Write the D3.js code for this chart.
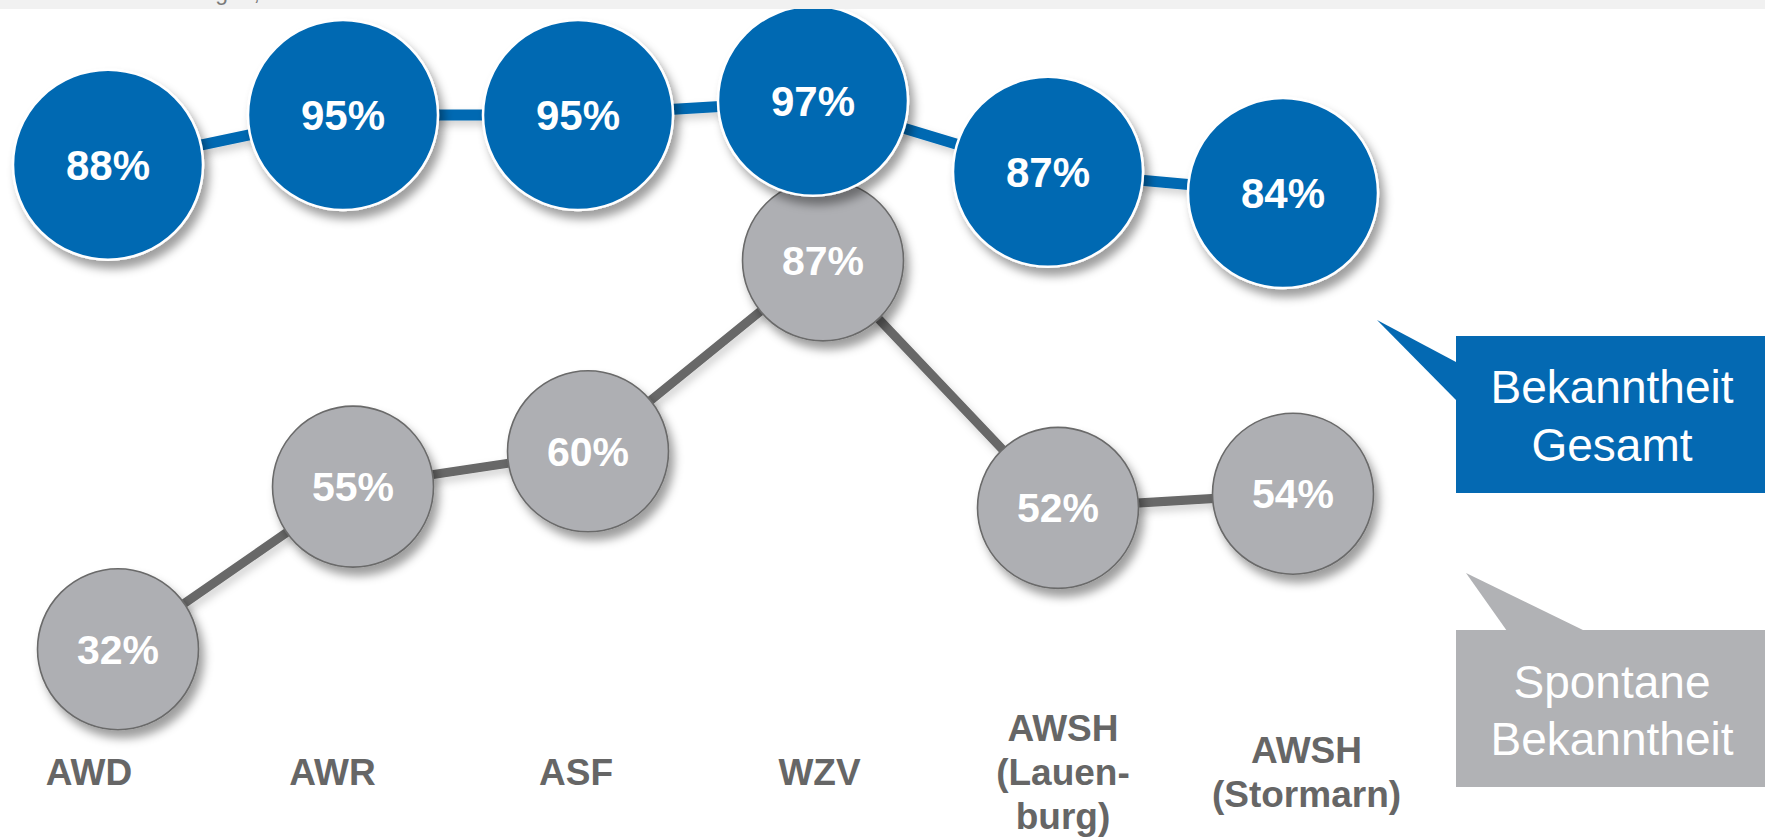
<!DOCTYPE html>
<html>
<head>
<meta charset="utf-8">
<script src="https://cdn.jsdelivr.net/npm/d3@7"></script>
<style>
  html, body { margin: 0; padding: 0; background: #ffffff; }
  svg { display: block; }
</style>
</head>
<body>
<svg id="chart" width="1765" height="837"></svg>
<script>
// ---- data ----
const categories = ["AWD", "AWR", "ASF", "WZV", "AWSH (Lauenburg)", "AWSH (Stormarn)"];
const tickLabels = [["AWD"], ["AWR"], ["ASF"], ["WZV"], ["AWSH", "(Lauen-", "burg)"], ["AWSH", "(Stormarn)"]];
const bekanntheitGesamt = [88, 95, 95, 97, 87, 84];
const spontaneBekanntheit = [32, 55, 60, 87, 52, 54];
const legendLabels = [["Bekanntheit", "Gesamt"], ["Spontane", "Bekanntheit"]];
const headerText = "Nennungen,";

// ---- setup ----
const W = 1765, H = 837;
const svg = d3.select("#chart");
const FONT = "'Liberation Sans', Arial, Helvetica, sans-serif";
const BLUE = "#0469b2";
const GREYFILL = "#aeafb3";
const GREYLINE = "#676767";

const defs = svg.append("defs");
const f = defs.append("filter").attr("id", "shadow")
  .attr("x", "-30%").attr("y", "-30%").attr("width", "160%").attr("height", "160%");
f.append("feDropShadow").attr("dx", 5).attr("dy", 8).attr("stdDeviation", 5)
  .attr("flood-color", "#000").attr("flood-opacity", 0.38);
const fl = defs.append("filter").attr("id", "lshadow")
  .attr("x", "-10%").attr("y", "-10%").attr("width", "120%").attr("height", "130%");
fl.append("feDropShadow").attr("dx", 3).attr("dy", 5).attr("stdDeviation", 4)
  .attr("flood-color", "#000").attr("flood-opacity", 0.18);

// scales
const xBlue = d3.scalePoint().domain(categories).range([108, 1283]);
const xGrey = d3.scalePoint().domain(categories).range([118, 1293]);
const xLab  = d3.scalePoint().domain(categories).range([89, 1306.5]);
const yBlue = d3.scaleLinear().domain([0, 100]).range([789.5, 79.5]);
const yGrey = d3.scaleLinear().domain([0, 100]).range([875.5, 168.5]);

const rBlue = 95, rGrey = 80.5;

const blueData = categories.map((c, i) => ({c, v: bekanntheitGesamt[i]}));
const greyData = categories.map((c, i) => ({c, v: spontaneBekanntheit[i]}));

// ---- grey series ----
const gGrey = svg.append("g");
gGrey.append("path")
  .datum(greyData)
  .attr("d", d3.line().x(d => xGrey(d.c)).y(d => yGrey(d.v)))
  .attr("fill", "none").attr("stroke", GREYLINE).attr("stroke-width", 9)
  .attr("filter", "url(#lshadow)");
const gn = gGrey.selectAll("g.node").data(greyData).join("g").attr("class", "node");
gn.append("circle")
  .attr("cx", d => xGrey(d.c)).attr("cy", d => yGrey(d.v)).attr("r", rGrey)
  .attr("fill", GREYFILL).attr("stroke", "#6a6a6a").attr("stroke-width", 1.6)
  .attr("filter", "url(#shadow)");
gn.append("text")
  .attr("x", d => xGrey(d.c)).attr("y", d => yGrey(d.v) + 14.5)
  .attr("text-anchor", "middle")
  .attr("font-family", FONT).attr("font-weight", "bold").attr("font-size", 41)
  .attr("fill", "#ffffff")
  .text(d => d.v + "%");

// ---- blue series ----
const gBlue = svg.append("g");
gBlue.append("path")
  .datum(blueData)
  .attr("d", d3.line().x(d => xBlue(d.c)).y(d => yBlue(d.v)))
  .attr("fill", "none").attr("stroke", BLUE).attr("stroke-width", 11)
  .attr("filter", "url(#lshadow)");
const bn = gBlue.selectAll("g.node").data(blueData).join("g").attr("class", "node");
bn.append("circle")
  .attr("cx", d => xBlue(d.c)).attr("cy", d => yBlue(d.v)).attr("r", rBlue)
  .attr("fill", BLUE).attr("stroke", "#ffffff").attr("stroke-width", 2.5)
  .attr("filter", "url(#shadow)");
bn.append("text")
  .attr("x", d => xBlue(d.c)).attr("y", d => yBlue(d.v) + 15)
  .attr("text-anchor", "middle")
  .attr("font-family", FONT).attr("font-weight", "bold").attr("font-size", 42)
  .attr("fill", "#ffffff")
  .text(d => d.v + "%");

// ---- category labels ----
const lineH = 44;
const gl = svg.append("g").selectAll("text").data(categories).join("text")
  .attr("text-anchor", "middle")
  .attr("font-family", FONT).attr("font-weight", "bold").attr("font-size", 37)
  .attr("fill", "#666666");
gl.each(function(c, i) {
  const lines = tickLabels[i];
  const n = lines.length;
  const base = 785 - (n - 1) / 2 * lineH;
  d3.select(this).selectAll("tspan").data(lines).join("tspan")
    .attr("x", xLab(c))
    .attr("y", (l, j) => base + j * lineH)
    .text(l => l);
});

// ---- legend callouts ----
const legend = svg.append("g");
legend.append("path")
  .attr("d", "M1377,320 L1456,362 L1456,400 Z").attr("fill", BLUE);
legend.append("rect")
  .attr("x", 1456).attr("y", 336).attr("width", 309).attr("height", 157).attr("fill", BLUE);
legend.append("path")
  .attr("d", "M1466,573 L1507,631 L1585,631 Z").attr("fill", "#b1b2b5");
legend.append("rect")
  .attr("x", 1456).attr("y", 630).attr("width", 309).attr("height", 157).attr("fill", "#b1b2b5");

const legY = [[403, 461], [698, 755]];
legendLabels.forEach((lines, k) => {
  const t = legend.append("text")
    .attr("text-anchor", "middle")
    .attr("font-family", FONT).attr("font-size", 46)
    .attr("fill", "#ffffff");
  lines.forEach((l, j) => {
    t.append("tspan").attr("x", 1612).attr("y", legY[k][j]).text(l);
  });
});

// ---- top band (cropped header, only descenders visible as in the source) ----
svg.append("clipPath").attr("id", "bandclip")
  .append("rect").attr("x", 0).attr("y", 0).attr("width", W).attr("height", 9);
svg.append("rect").attr("x", 0).attr("y", 0).attr("width", W).attr("height", 9).attr("fill", "#f1f1f1");
svg.append("text")
  .attr("clip-path", "url(#bandclip)")
  .attr("x", 260).attr("y", 0)
  .attr("text-anchor", "end")
  .attr("font-family", FONT).attr("font-size", 23)
  .attr("fill", "#7a7a7a")
  .text(headerText);
</script>
</body>
</html>
